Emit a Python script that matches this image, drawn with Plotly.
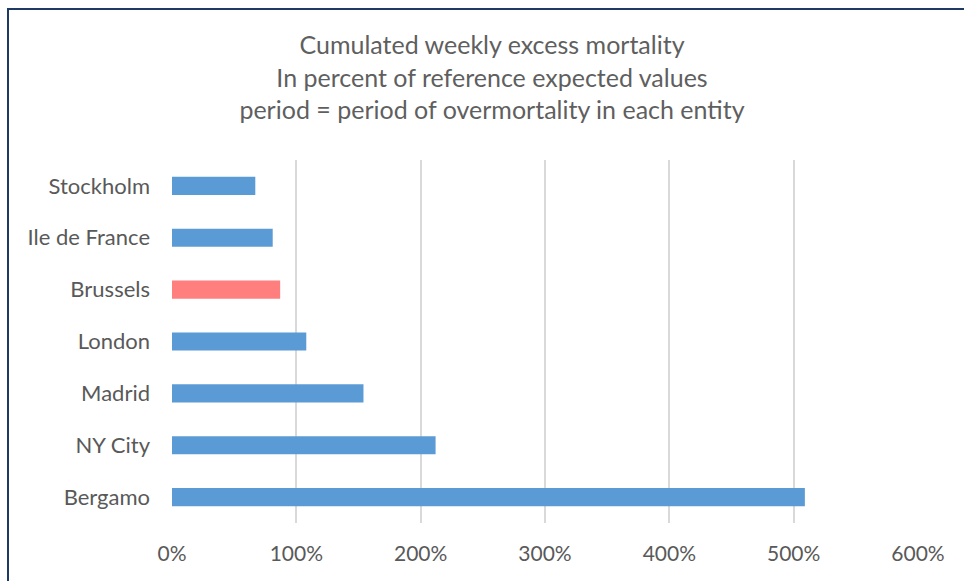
import plotly.graph_objects as go

# Cumulated weekly excess mortality, % of reference expected values
cities = ["Bergamo", "NY City", "Madrid", "London", "Brussels", "Ile de France", "Stockholm"]
excess_pct = [509, 212, 154, 108, 87, 81, 67]
bar_colors = ["#5B9BD5", "#5B9BD5", "#5B9BD5", "#5B9BD5", "#FF7F7F", "#5B9BD5", "#5B9BD5"]
tick_vals = [0, 100, 200, 300, 400, 500, 600]
tick_text = ["0%", "100%", "200%", "300%", "400%", "500%", "600%"]

W, H = 964, 581
ML, MR, MT, MB = 172, 46, 160, 58
pw, ph = W - ML - MR, H - MT - MB

def px_x(p):
    return (p - ML) / pw

def px_y(p):
    return (H - MB - p) / ph

fig = go.Figure(
    go.Bar(
        y=cities,
        x=excess_pct,
        orientation="h",
        marker=dict(color=bar_colors, line=dict(width=0)),
        width=0.35,
    )
)

fig.update_layout(
    width=W,
    height=H,
    margin=dict(l=ML, r=MR, t=MT, b=MB),
    paper_bgcolor="white",
    plot_bgcolor="white",
    showlegend=False,
    font=dict(family="Lato, Calibri, sans-serif", color="#595959"),
    title=dict(
        text="Cumulated weekly excess mortality<br>In percent of reference expected values"
             "<br>period = period of overmortality in each entity",
        x=492 / W,
        xref="container",
        xanchor="center",
        y=1 - 54 / H,
        yanchor="middle",
        font=dict(size=25, color="#5F5F5F"),
    ),
    xaxis=dict(
        range=[0, 600],
        tickvals=tick_vals,
        ticktext=tick_text,
        showgrid=True,
        gridcolor="#D9D9D9",
        gridwidth=1.5,
        zeroline=False,
        showline=False,
        tickfont=dict(size=21, color="#595959"),
        ticks="",
        ticklabelstandoff=16,
    ),
    yaxis=dict(
        categoryorder="array",
        categoryarray=cities,
        range=[-0.5, 6.5],
        showgrid=False,
        zeroline=False,
        showline=False,
        tickfont=dict(size=22, color="#595959"),
        ticks="",
        ticklabelstandoff=21,
    ),
    shapes=[
        dict(
            type="rect",
            xref="paper",
            yref="paper",
            x0=px_x(8),
            x1=px_x(966),
            y0=px_y(584),
            y1=px_y(9),
            line=dict(color="#203864", width=2),
            fillcolor="rgba(0,0,0,0)",
            layer="above",
        )
    ],
)

fig.write_html("out.html")
